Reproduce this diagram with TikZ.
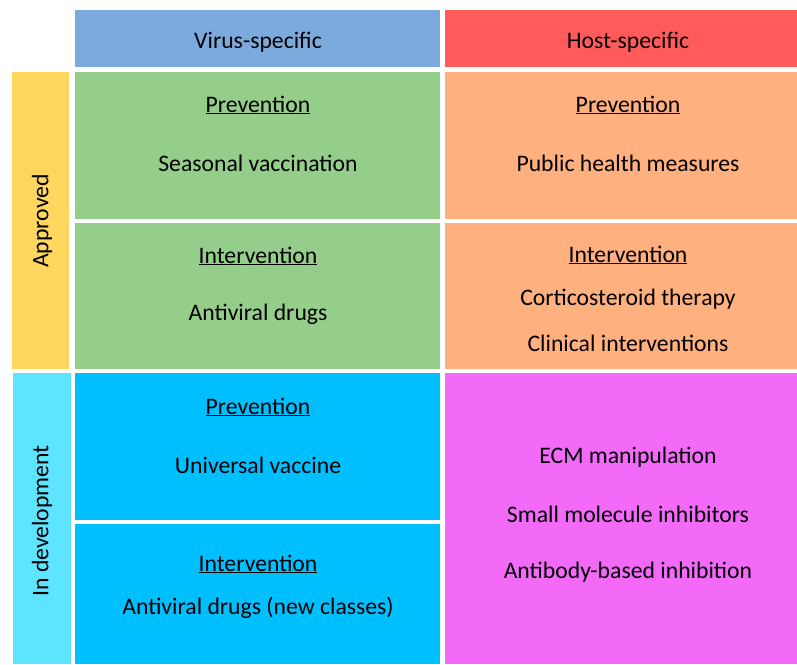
\documentclass[tikz,border=0pt]{standalone}
\usepackage{fontspec}
\setmainfont{Carlito}
\definecolor{hdrblue}{HTML}{7DAADD}
\definecolor{hdrred}{HTML}{FF5B5B}
\definecolor{cgreen}{HTML}{95CE8A}
\definecolor{corange}{HTML}{FFB07F}
\definecolor{cyellow}{HTML}{FFD75E}
\definecolor{clblue}{HTML}{5DE4FF}
\definecolor{cblue}{HTML}{00BFFF}
\definecolor{cmag}{HTML}{F36AF8}
\tikzset{
  cell/.style={draw=none, inner sep=0pt, outer sep=0pt, anchor=north west},
  txtbase/.style={inner sep=0pt, font=\fontsize{23.7}{28}\selectfont, text=black},
  txt/.style={txtbase, yshift=-2pt},
  vtxt/.style={txtbase, rotate=90},
}
\newcommand{\ulx}[1]{\underline{#1}}
\begin{document}
\begin{tikzpicture}[x=1pt,y=-1pt]
\useasboundingbox[fill=white] (0,0) rectangle (797,664);
% cells
\node[cell, fill=hdrblue, minimum width=365, minimum height=57] (hv) at (75,10) {};
\node[cell, fill=hdrred, minimum width=352, minimum height=57] (hh) at (445,10) {};
\node[cell, fill=cyellow, minimum width=57, minimum height=297] (ra) at (12,72) {};
\node[cell, fill=clblue, minimum width=58, minimum height=291] (rd) at (13,373) {};
\node[cell, fill=cgreen, minimum width=365, minimum height=147] (gp) at (75,72) {};
\node[cell, fill=cgreen, minimum width=365, minimum height=146] (gi) at (75,223) {};
\node[cell, fill=corange, minimum width=352, minimum height=147] (op) at (445,72) {};
\node[cell, fill=corange, minimum width=352, minimum height=146] (oi) at (445,223) {};
\node[cell, fill=cblue, minimum width=365, minimum height=147] (bp) at (75,373) {};
\node[cell, fill=cblue, minimum width=365, minimum height=140] (bi) at (75,524) {};
\node[cell, fill=cmag, minimum width=352, minimum height=291] (mg) at (445,373) {};
% texts
\node[txt] (t1) at (258,40) {Virus-specific};
\node[txt] (t2) at (628,40) {Host-specific};
\node[vtxt] (t3) at (42,221) {Approved};
\node[vtxt] (t4) at (42,521) {In development};
\node[txt] (t5) at (258,103) {\ulx{Prevention}};
\node[txt] (t6) at (258,161) {Seasonal vaccination};
\node[txt] (t7) at (258,254) {\ulx{Intervention}};
\node[txt] (t8) at (258,312) {Antiviral drugs};
\node[txt] (t9) at (628,103) {\ulx{Prevention}};
\node[txt] (t10) at (628,161) {Public health measures};
\node[txt] (t11) at (628,253) {\ulx{Intervention}};
\node[txt] (t12) at (628,297) {Corticosteroid therapy};
\node[txt] (t13) at (628,341) {Clinical interventions};
\node[txt] (t14) at (258,405) {\ulx{Prevention}};
\node[txt] (t15) at (258,463) {Universal vaccine};
\node[txt] (t16) at (258,562) {\ulx{Intervention}};
\node[txt] (t17) at (258,606) {Antiviral drugs (new classes)};
\node[txt] (t18) at (628,455) {ECM manipulation};
\node[txt] (t19) at (628,512) {Small molecule inhibitors};
\node[txt] (t20) at (628,570) {Antibody-based inhibition};
\end{tikzpicture}
\end{document}
